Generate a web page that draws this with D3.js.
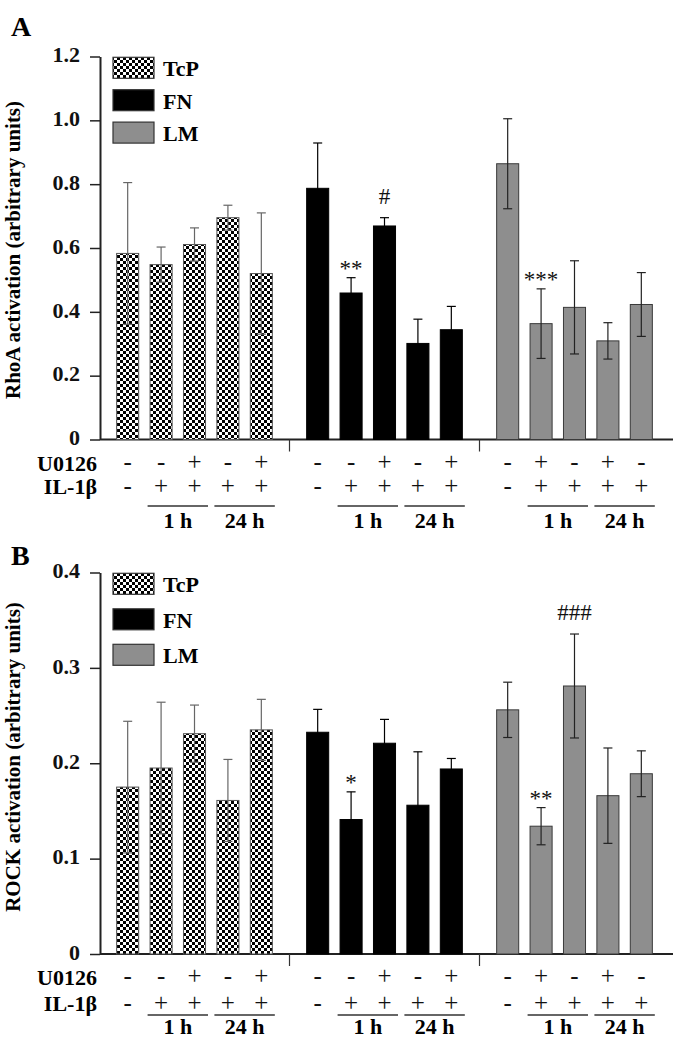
<!DOCTYPE html>
<html>
<head>
<meta charset="utf-8">
<script src="https://cdn.jsdelivr.net/npm/d3@7"></script>
<style>
body { margin: 0; background: #fff; }
text { font-family: "Liberation Serif", "Times New Roman", serif; }
</style>
</head>
<body>
<svg id="chart"></svg>
<script>
var width = 676;
var height = 1038;

// data
var groups = ["TcP", "FN", "LM"];
var u0126 = [["-", "-", "+", "-", "+"], ["-", "-", "+", "-", "+"], ["-", "+", "-", "+", "-"]];
var il1b = [["-", "+", "+", "+", "+"], ["-", "+", "+", "+", "+"], ["-", "+", "+", "+", "+"]];
var timeLabels = ["1 h", "24 h"];

var rhoaMeans = [[0.583, 0.548, 0.611, 0.695, 0.520], [0.787, 0.459, 0.669, 0.301, 0.344], [0.864, 0.363, 0.414, 0.309, 0.423]];
var rhoaSd = [[0.222, 0.055, 0.052, 0.039, 0.190], [0.142, 0.048, 0.026, 0.076, 0.073], [0.141, 0.109, 0.146, 0.057, 0.100]];
var rhoaTicks = [0, 0.2, 0.4, 0.6, 0.8, 1.0, 1.2];
var rhoaMarks = [{ group: "FN", bar: 1, text: "**" }, { group: "FN", bar: 2, text: "#" }, { group: "LM", bar: 1, text: "***" }];

var rockMeans = [[0.175, 0.195, 0.231, 0.161, 0.235], [0.2325, 0.141, 0.221, 0.156, 0.194], [0.256, 0.134, 0.281, 0.166, 0.189]];
var rockSd = [[0.069, 0.069, 0.030, 0.043, 0.032], [0.024, 0.029, 0.025, 0.056, 0.011], [0.029, 0.0195, 0.0545, 0.050, 0.024]];
var rockTicks = [0, 0.1, 0.2, 0.3, 0.4];
var rockMarks = [{ group: "FN", bar: 1, text: "*" }, { group: "LM", bar: 1, text: "**" }, { group: "LM", bar: 2, text: "###" }];

var svg = d3.select("#chart").attr("width", width).attr("height", height);

// checkerboard for TcP
var pat = svg.append("defs").append("pattern")
    .attr("id", "checks")
    .attr("patternUnits", "userSpaceOnUse")
    .attr("width", 6).attr("height", 6);
pat.append("rect").attr("width", 6).attr("height", 6).attr("fill", "#fff");
pat.append("rect").attr("width", 3).attr("height", 3).attr("fill", "#000");
pat.append("rect").attr("x", 3).attr("y", 3).attr("width", 3).attr("height", 3).attr("fill", "#000");

var fills = { TcP: "url(#checks)", FN: "#000", LM: "#8e8e8e" };
var strokes = { TcP: "#555", FN: "#000", LM: "#3a3a3a" };
var errColor = { TcP: "#666", FN: "#000", LM: "#222" };

var x0 = d3.scaleBand().domain(groups).range([105.3, 663.7]).paddingInner(0.061).paddingOuter(0);
var x1 = d3.scaleBand().domain(d3.range(5)).range([0, x0.bandwidth()]).padding(0.34);
var bw = x1.bandwidth();
function barX(g, i) { return x0(g) + x1(i); }

var panels = [
    { letter: "A", letterY: 36, title: "RhoA activation (arbitrary units)", titleY: 250,
      means: rhoaMeans, sds: rhoaSd, ticks: rhoaTicks, marks: rhoaMarks,
      max: 1.2, top: 56.5, base: 439.5, legY: 57.3, legStep: 32.4,
      row1: 30, row2: 54.5, under: 66.5, timeRow: 88 },
    { letter: "B", letterY: 565, title: "ROCK activation (arbitrary units)", titleY: 757,
      means: rockMeans, sds: rockSd, ticks: rockTicks, marks: rockMarks,
      max: 0.4, top: 572.5, base: 954, legY: 573.3, legStep: 35.5,
      row1: 30, row2: 57, under: 61, timeRow: 80 }
];

panels.forEach(drawPanel);

function drawPanel(p) {
    var g = svg.append("g");
    var y = d3.scaleLinear().domain([0, p.max]).range([p.base, p.top]);

    g.append("text")
        .attr("x", 11).attr("y", p.letterY)
        .attr("font-size", 28).attr("font-weight", "bold")
        .text(p.letter);

    g.append("text")
        .attr("transform", "translate(20," + p.titleY + ") rotate(-90)")
        .attr("text-anchor", "middle")
        .attr("font-size", 21).attr("font-weight", "bold")
        .text(p.title);

    var yAxis = d3.axisLeft(y)
        .tickValues(p.ticks)
        .tickSize(10)
        .tickSizeOuter(0)
        .tickPadding(10)
        .tickFormat(d => d === 0 ? "0" : d3.format(".1f")(d));
    var ax = g.append("g").attr("transform", "translate(100,0)").call(yAxis);
    ax.select(".domain").attr("stroke", "#222").attr("stroke-width", 2);
    ax.selectAll(".tick line").attr("stroke", "#222").attr("stroke-width", 1.5);
    ax.selectAll(".tick text")
        .attr("dy", "0.24em")
        .attr("font-family", "Liberation Serif, serif")
        .attr("font-size", 22).attr("font-weight", "bold").attr("fill", "#111");

    // baseline
    g.append("line")
        .attr("x1", 100).attr("x2", 673)
        .attr("y1", p.base).attr("y2", p.base)
        .attr("stroke", "#222").attr("stroke-width", 2);

    // group separators
    [1, 2].forEach(function (k) {
        var sx = (barX(groups[k - 1], 4) + bw + barX(groups[k], 0)) / 2;
        g.append("line")
            .attr("x1", sx).attr("x2", sx)
            .attr("y1", p.base).attr("y2", p.base + 12)
            .attr("stroke", "#333").attr("stroke-width", 1.2);
    });

    groups.forEach(function (grp, gi) {
        var bars = g.append("g");
        p.means[gi].forEach(function (m, i) {
            var sd = p.sds[gi][i];
            var cx = barX(grp, i) + bw / 2;
            bars.append("rect")
                .attr("x", barX(grp, i))
                .attr("y", y(m))
                .attr("width", bw)
                .attr("height", y(0) - y(m))
                .attr("fill", fills[grp])
                .attr("stroke", strokes[grp])
                .attr("stroke-width", 1);
            var ec = errColor[grp];
            bars.append("line")
                .attr("x1", cx).attr("x2", cx)
                .attr("y1", y(m - sd)).attr("y2", y(m + sd))
                .attr("stroke", ec).attr("stroke-width", 1.2);
            [m - sd, m + sd].forEach(function (v) {
                bars.append("line")
                    .attr("x1", cx - 4.5).attr("x2", cx + 4.5)
                    .attr("y1", y(v)).attr("y2", y(v))
                    .attr("stroke", ec).attr("stroke-width", 1.2);
            });
        });

        // treatment rows
        [u0126, il1b].forEach(function (row, ri) {
            g.selectAll(null)
                .data(row[gi])
                .enter()
                .append("text")
                .attr("x", (d, i) => barX(grp, i) + bw / 2)
                .attr("y", p.base + (ri === 0 ? p.row1 : p.row2))
                .attr("text-anchor", "middle")
                .attr("font-size", 25)
                .attr("fill", "#111")
                .text(d => d);
        });

        // time spans
        timeLabels.forEach(function (t, ti) {
            var a = barX(grp, 1 + ti * 2) + bw / 2 - 13.5;
            var b = barX(grp, 2 + ti * 2) + bw / 2 + 13.5;
            g.append("line")
                .attr("x1", a).attr("x2", b)
                .attr("y1", p.base + p.under).attr("y2", p.base + p.under)
                .attr("stroke", "#333").attr("stroke-width", 1.5);
            g.append("text")
                .attr("x", (a + b) / 2)
                .attr("y", p.base + p.timeRow)
                .attr("text-anchor", "middle")
                .attr("font-size", 22).attr("font-weight", "bold")
                .text(t);
        });
    });

    // row labels
    ["U0126", "IL-1\u03b2"].forEach(function (lab, ri) {
        g.append("text")
            .attr("x", 97)
            .attr("y", p.base + (ri === 0 ? p.row1 + 1 : p.row2))
            .attr("text-anchor", "end")
            .attr("font-size", 22).attr("font-weight", "bold")
            .text(lab);
    });

    // significance marks
    p.marks.forEach(function (mk) {
        var gi = groups.indexOf(mk.group);
        var top = p.means[gi][mk.bar] + p.sds[gi][mk.bar];
        var isHash = mk.text.indexOf("#") >= 0;
        g.append("text")
            .attr("x", barX(mk.group, mk.bar) + bw / 2)
            .attr("y", y(top) - (isHash ? 14 : 2))
            .attr("text-anchor", "middle")
            .attr("font-size", 23)
            .attr("fill", "#111")
            .text(mk.text);
    });

    // legend
    groups.forEach(function (grp, k) {
        var ly = p.legY + k * p.legStep;
        g.append("rect")
            .attr("x", 113).attr("y", ly)
            .attr("width", 41).attr("height", 21)
            .attr("fill", fills[grp])
            .attr("stroke", "#333").attr("stroke-width", 1.2);
        g.append("text")
            .attr("x", 163).attr("y", ly + 19)
            .attr("font-size", 22).attr("font-weight", "bold")
            .text(grp);
    });
}
</script>
</body>
</html>
